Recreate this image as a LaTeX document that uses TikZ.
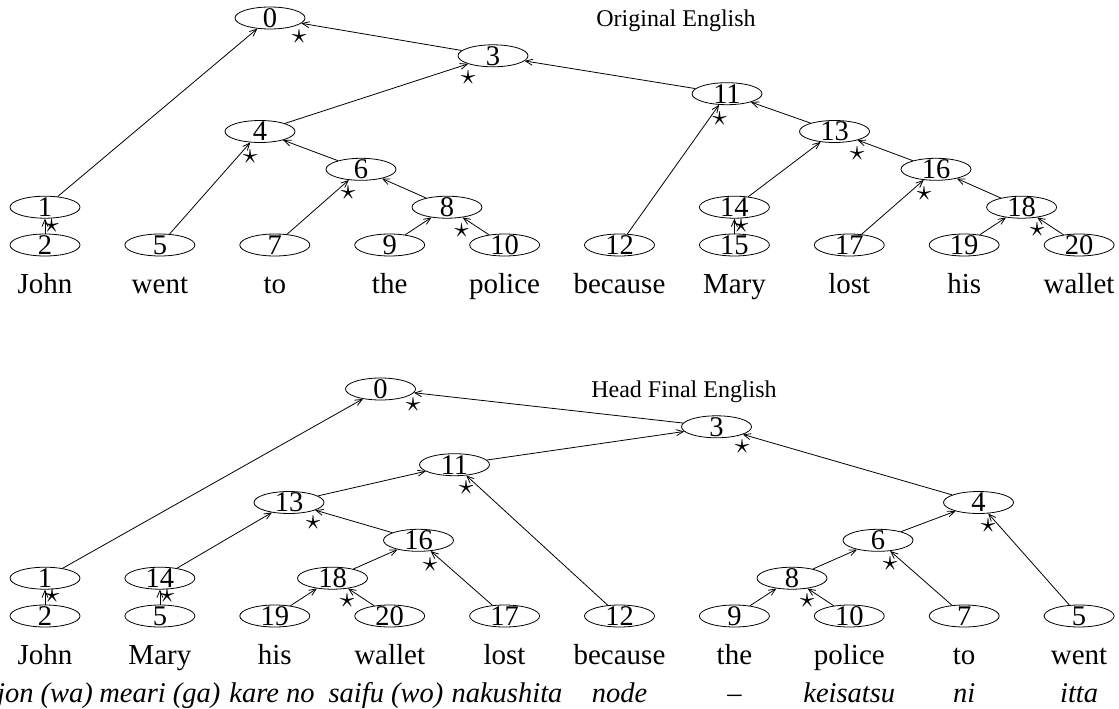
\documentclass[tikz,border=0pt]{standalone}
\usepackage{fontspec}
\usepackage{graphicx}
\setmainfont{Liberation Serif}
\usetikzlibrary{shapes.geometric,arrows.meta}
\newcommand\treenode[3]{\node[ell,label={[num]center:#3}] (#1) at (#2) {};}
\newcommand\hstar[2]{\node[hd] (#1) at (#2) {\scalebox{2.9}{$\star$}};}
\begin{document}
\begin{tikzpicture}[x=1pt,y=-1pt,
 ell/.style={ellipse,draw,line width=0.8pt,minimum width=70pt,minimum height=22pt,inner sep=0pt},
 num/.style={font=\fontsize{28.5}{28.5}\selectfont,inner sep=0pt},
 conn/.style={line width=0.8pt,-{Straight Barb[length=7pt,width=6pt]}},
 hd/.style={inner sep=0pt},
 word/.style={font=\fontsize{29}{29}\selectfont,anchor=base,inner sep=0pt},
 jword/.style={font=\fontsize{28.5}{28.5}\selectfont\itshape,anchor=base,inner sep=0pt},
 ttl/.style={font=\fontsize{24}{24}\selectfont,anchor=base,inner sep=0pt}]
\useasboundingbox (0,0) rectangle (1119,709);

% ---------------- Original English ----------------
\node[ttl] (title1) at (676,26.5) {Original English};
\treenode{t0}{270,18}{0}
\treenode{t3}{493,55.8}{3}
\treenode{t11}{727,93.7}{11}
\treenode{t4}{260,131.5}{4}
\treenode{t13}{834.5,131.5}{13}
\treenode{t6}{361,169.3}{6}
\treenode{t16}{936,169.3}{16}
\treenode{t1}{45,207.2}{1}
\treenode{t8}{447,207.2}{8}
\treenode{t14}{734.4,207.2}{14}
\treenode{t18}{1021.6,207.2}{18}
\treenode{t2}{45,245}{2}
\treenode{t5}{159.9,245}{5}
\treenode{t7}{274.8,245}{7}
\treenode{t9}{389.7,245}{9}
\treenode{t10}{504.6,245}{10}
\treenode{t12}{619.5,245}{12}
\treenode{t15}{734.4,245}{15}
\treenode{t17}{849.3,245}{17}
\treenode{t19}{964.2,245}{19}
\treenode{t20}{1079.1,245}{20}

\draw[conn] (t1) -- (t0);
\draw[conn] (t3) -- (t0);
\draw[conn] (t4) -- (t3);
\draw[conn] (t11) -- (t3);
\draw[conn] (t5) -- (t4);
\draw[conn] (t6) -- (t4);
\draw[conn] (t7) -- (t6);
\draw[conn] (t8) -- (t6);
\draw[conn] (t9) -- (t8);
\draw[conn] (t10) -- (t8);
\draw[conn] (t12) -- (t11);
\draw[conn] (t13) -- (t11);
\draw[conn] (t14) -- (t13);
\draw[conn] (t16) -- (t13);
\draw[conn] (t15) -- (t14);
\draw[conn] (t17) -- (t16);
\draw[conn] (t18) -- (t16);
\draw[conn] (t19) -- (t18);
\draw[conn] (t20) -- (t18);
\draw[conn] (t2) -- (t1);

\hstar{st0}{299,37}
\hstar{st3}{468,78}
\hstar{st11}{719.5,119}
\hstar{st4}{250,157}
\hstar{st6}{348,193}
\hstar{st13}{857,154}
\hstar{st16}{924,194}
\hstar{st1}{51.5,225.5}
\hstar{st8}{461.5,231}
\hstar{st14}{741,226}
\hstar{st18}{1037,230}

\node[word] (wt1) at (45,293) {John};
\node[word] (wt2) at (159.9,293) {went};
\node[word] (wt3) at (274.8,293) {to};
\node[word] (wt4) at (389.7,293) {the};
\node[word] (wt5) at (504.6,293) {police};
\node[word] (wt6) at (619.5,293) {because};
\node[word] (wt7) at (734.4,293) {Mary};
\node[word] (wt8) at (849.3,293) {lost};
\node[word] (wt9) at (964.2,293) {his};
\node[word] (wt10) at (1079.1,293) {wallet};

% ---------------- Head Final English ----------------
\node[ttl] (title2) at (684,397.5) {Head Final English};
\treenode{b0}{380.5,389}{0}
\treenode{b3}{716.5,426.8}{3}
\treenode{b11}{454.5,464.7}{11}
\treenode{b13}{289,502.5}{13}
\treenode{b4}{978.5,502.5}{4}
\treenode{b16}{418.5,540.3}{16}
\treenode{b6}{878,540.3}{6}
\treenode{b1}{45,578.2}{1}
\treenode{b14}{159.9,578.2}{14}
\treenode{b18}{332.5,578.2}{18}
\treenode{b8}{792,578.2}{8}
\treenode{b2}{45,616}{2}
\treenode{b5}{159.9,616}{5}
\treenode{b19}{274.8,616}{19}
\treenode{b20}{389.7,616}{20}
\treenode{b17}{504.6,616}{17}
\treenode{b12}{619.5,616}{12}
\treenode{b9}{734.4,616}{9}
\treenode{b10}{849.3,616}{10}
\treenode{b7}{964.2,616}{7}
\treenode{b5w}{1079.1,616}{5}

\draw[conn] (b1) -- (b0);
\draw[conn] (b3) -- (b0);
\draw[conn] (b11) -- (b3);
\draw[conn] (b4) -- (b3);
\draw[conn] (b13) -- (b11);
\draw[conn] (b12) -- (b11);
\draw[conn] (b14) -- (b13);
\draw[conn] (b16) -- (b13);
\draw[conn] (b5) -- (b14);
\draw[conn] (b18) -- (b16);
\draw[conn] (b17) -- (b16);
\draw[conn] (b19) -- (b18);
\draw[conn] (b20) -- (b18);
\draw[conn] (b2) -- (b1);
\draw[conn] (b6) -- (b4);
\draw[conn] (b5w) -- (b4);
\draw[conn] (b8) -- (b6);
\draw[conn] (b7) -- (b6);
\draw[conn] (b9) -- (b8);
\draw[conn] (b10) -- (b8);

\hstar{sb0}{413,405}
\hstar{sb3}{742,447}
\hstar{sb11}{466,488}
\hstar{sb13}{313,523}
\hstar{sb16}{430,565}
\hstar{sb18}{347,601}
\hstar{sb1}{52,596}
\hstar{sb14}{167,596}
\hstar{sb4}{988,526}
\hstar{sb6}{890,564}
\hstar{sb8}{807,601}

\node[word] (wb1) at (45,664) {John};
\node[word] (wb2) at (159.9,664) {Mary};
\node[word] (wb3) at (274.8,664) {his};
\node[word] (wb4) at (389.7,664) {wallet};
\node[word] (wb5) at (504.6,664) {lost};
\node[word] (wb6) at (619.5,664) {because};
\node[word] (wb7) at (734.4,664) {the};
\node[word] (wb8) at (849.3,664) {police};
\node[word] (wb9) at (964.2,664) {to};
\node[word] (wb10) at (1079.1,664) {went};

\node[jword] (jb1) at (45,702) {jon (wa)};
\node[jword] (jb2) at (159.9,702) {meari (ga)};
\node[jword] (jb3) at (272,702) {kare no};
\node[jword] (jb4) at (386,702) {saifu (wo)};
\node[jword] (jb5) at (507,702) {nakushita};
\node[jword] (jb6) at (619.5,702) {node};
\node[jword] (jb7) at (734.4,702) {–};
\node[jword] (jb8) at (849.3,702) {keisatsu};
\node[jword] (jb9) at (964.2,702) {ni};
\node[jword] (jb10) at (1079.1,702) {itta};
\end{tikzpicture}
\end{document}
